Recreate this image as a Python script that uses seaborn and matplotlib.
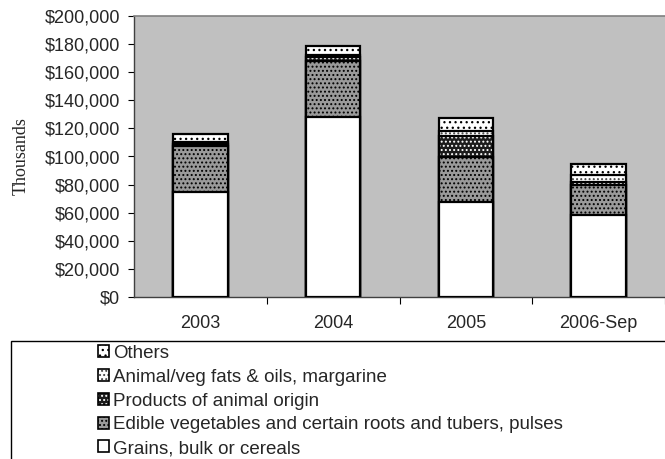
import numpy as np
import pandas as pd
import seaborn as sns
import matplotlib
matplotlib.use("Agg")
import matplotlib.pyplot as plt
from matplotlib.patches import Patch, Rectangle
from matplotlib.ticker import FuncFormatter, FixedLocator

# ---- data (thousands of $) ----
periods = ["2003", "2004", "2005", "2006-Sep"]
grains = [74950, 128100, 67800, 58400]
edible = [32750, 40100, 32100, 21300]
products = [1500, 2500, 14700, 2400]
fats = [900, 1300, 3800, 4700]
others = [5900, 6400, 8800, 7850]
series_names = [
    "Grains, bulk or cereals",
    "Edible vegetables and certain roots and tubers, pulses",
    "Products of animal origin",
    "Animal/veg fats & oils, margarine",
    "Others",
]
y_ticks = [0, 20000, 40000, 60000, 80000, 100000, 120000, 140000, 160000, 180000, 200000]

# ---- styles per series (order as series_names) ----
faces = ["white", "#9a9a9a", "#1c1c1c", "white", "white"]
hatches = [None, "....", "....", "....", "..."]
hatch_cols = ["black", "black", "white", "#444444", "black"]

sns.set_style("white")
plt.rcParams["font.family"] = ["Liberation Sans", "DejaVu Sans"]
plt.rcParams["hatch.linewidth"] = 0.9

fig = plt.figure(figsize=(6.65, 4.59), dpi=100)
W, H = 665, 459
ax = fig.add_axes([134 / W, 1 - 297 / H, (665 - 134) / W, (297 - 16) / H])
ax.set_facecolor("#c0c0c0")

df = pd.DataFrame({"period": periods})
vals = [grains, edible, products, fats, others]
cum = np.cumsum(np.array(vals), axis=0)

# draw cumulative bars from tallest to shortest so each band shows
for i in range(len(series_names) - 1, -1, -1):
    d = df.copy()
    d["value"] = cum[i]
    n_before = len(ax.patches)
    sns.barplot(data=d, x="period", y="value", ax=ax, color=faces[i],
                width=0.41, edgecolor="black", linewidth=1.6, saturation=1,
                errorbar=None, zorder=3)
    for p in ax.patches[n_before:]:
        p.set_facecolor(faces[i])
        if hatches[i]:
            p.set_hatch(hatches[i])
            p._hatch_color = matplotlib.colors.to_rgba(hatch_cols[i])

ax.set_xlim(-0.5, 3.5)
ax.set_ylim(0, 200000)
ax.yaxis.set_major_locator(FixedLocator(y_ticks))
ax.yaxis.set_major_formatter(FuncFormatter(lambda v, p: "${:,.0f}".format(v)))
ax.set_xlabel("")
ax.set_ylabel("Thousands", family=["Liberation Serif"], fontsize=13, labelpad=11)

ax.tick_params(axis="y", which="major", left=True, length=4, width=0.8,
               pad=6, labelsize=13, color="black")
ax.set_xticks(range(len(periods)))
ax.set_xticklabels(periods)
ax.tick_params(axis="x", which="major", length=0, pad=13, labelsize=13)
ax.set_xticks([0.5, 1.5, 2.5, 3.5], minor=True)
ax.tick_params(axis="x", which="minor", bottom=True, length=5, width=0.8, color="black")

for s in ["top", "right"]:
    ax.spines[s].set_color("#808080")
    ax.spines[s].set_linewidth(1.2)
for s in ["left", "bottom"]:
    ax.spines[s].set_color("#404040")
    ax.spines[s].set_linewidth(1.0)
ax.spines["right"].set_visible(False)

# legend box (extends past figure edges as in reference)
fig.patches.append(Rectangle((11 / W, -0.05), 1.0, (1 - 341 / H) + 0.05,
                             transform=fig.transFigure, fill=False,
                             edgecolor="black", linewidth=1.0))
handles = []
for i in range(len(series_names) - 1, -1, -1):
    h = Patch(facecolor=faces[i], edgecolor="black", linewidth=1.2,
              hatch=hatches[i], label=series_names[i])
    handles.append(h)
leg = fig.legend(handles=handles, loc="upper left",
                 bbox_to_anchor=(98 / W, 1 - 345 / H), frameon=False,
                 fontsize=13.5, handlelength=0.6, handleheight=0.6,
                 handletextpad=0.2, labelspacing=0.36, borderaxespad=0,
                 borderpad=0)
for h, i in zip(leg.legend_handles, range(len(series_names) - 1, -1, -1)):
    if hatches[i]:
        h._hatch_color = matplotlib.colors.to_rgba(hatch_cols[i])

fig.savefig("out.png", dpi=100)
